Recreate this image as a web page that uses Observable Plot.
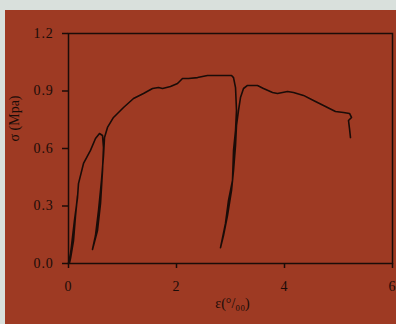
<!DOCTYPE html>
<html>
<head>
<meta charset="utf-8">
<script src="https://cdn.jsdelivr.net/npm/d3@7"></script>
<script src="https://cdn.jsdelivr.net/npm/@observablehq/plot@0.6"></script>
<style>
  html, body { margin: 0; padding: 0; background: #d9e0dc; width: 396px; height: 324px; overflow: hidden; }
  #chart { position: absolute; left: 5px; top: 10px; width: 391px; height: 314px; background: #9e3a23; }
  #chart svg { display: block; }
  #chart svg g[aria-label="y-axis tick label"] text,
  #chart svg g[aria-label="x-axis tick label"] text { letter-spacing: 0.8px; }
</style>
</head>
<body>
<div id="chart"></div>
<script>
// strain (‰) and stress (MPa) along the recorded loading path
const strain = [0, 0.037, 0.093, 0.148, 0.167, 0.13, 0.093, 0.037, 0.02,
  0.056, 0.11, 0.167, 0.185, 0.278, 0.407, 0.5, 0.574, 0.63,
  0.648, 0.63, 0.593, 0.537, 0.444,
  0.5, 0.556, 0.611, 0.648, 0.667, 0.722, 0.833, 1.019, 1.204, 1.389, 1.556, 1.667, 1.741, 1.889, 2.019, 2.111, 2.222, 2.389, 2.574, 2.759, 3.019, 3.056, 3.093, 3.111, 3.093, 3.056, 3.037, 2.963, 2.907, 2.815,
  2.87, 2.944, 3.019, 3.056, 3.093, 3.111, 3.148, 3.185, 3.241, 3.315, 3.5, 3.611, 3.778, 3.87, 4.056, 4.167, 4.352, 4.537, 4.722, 4.944, 5.093, 5.204, 5.241, 5.185, 5.204, 5.222];
const stress = [0, 0.052, 0.172, 0.303, 0.355, 0.25, 0.12, 0.026, 0.005,
  0.094, 0.224, 0.344, 0.417, 0.522, 0.59, 0.652, 0.678, 0.668,
  0.605, 0.485, 0.313, 0.172, 0.073,
  0.146, 0.277, 0.433, 0.563, 0.657, 0.71, 0.762, 0.814, 0.861, 0.887, 0.913, 0.918, 0.913, 0.923, 0.939, 0.965, 0.965, 0.97, 0.981, 0.981, 0.981, 0.97, 0.918, 0.798, 0.694, 0.59, 0.433, 0.329, 0.209, 0.083,
  0.146, 0.25, 0.381, 0.485, 0.616, 0.72, 0.798, 0.866, 0.913, 0.929, 0.929, 0.913, 0.892, 0.887, 0.897, 0.892, 0.877, 0.85, 0.824, 0.793, 0.788, 0.783, 0.762, 0.746, 0.704, 0.657];
const xTicks = [0, 2, 4, 6];
const yTicks = [0, 0.3, 0.6, 0.9, 1.2];
const xLabel = "ε(°/₀₀)";
const yLabel = "σ (Mpa)";

const data = strain.map((s, i) => ({strain: s, stress: stress[i]}));
const ink = "#1a0c08";

const chart = Plot.plot({
  width: 391,
  height: 314,
  marginLeft: 63,
  marginRight: 4,
  marginTop: 23,
  marginBottom: 61,
  x: {domain: [0, 6]},
  y: {domain: [0, 1.2]},
  style: {background: "transparent", fontFamily: "'Liberation Serif', serif", fontSize: "14px", color: ink},
  marks: [
    Plot.frame({stroke: ink, strokeWidth: 1.5}),
    Plot.axisX({ticks: xTicks, tickSize: 5, tickPadding: 13, strokeWidth: 1.5, label: null, tickFormat: d => String(d)}),
    Plot.axisY({ticks: yTicks, tickSize: 6, tickPadding: 9, strokeWidth: 1.5, label: null, tickFormat: d => d.toFixed(1)}),
    Plot.line(data, {x: "strain", y: "stress", stroke: ink, strokeWidth: 1.6, curve: "linear"}),
    Plot.text([yLabel], {text: d => d, frameAnchor: "left", rotate: -90, dx: -54, dy: -7, fontSize: 14}),
    Plot.text([xLabel], {text: d => d, frameAnchor: "bottom", dy: 44, dx: 2, fontSize: 14})
  ]
});
document.getElementById("chart").appendChild(chart);
</script>
</body>
</html>
